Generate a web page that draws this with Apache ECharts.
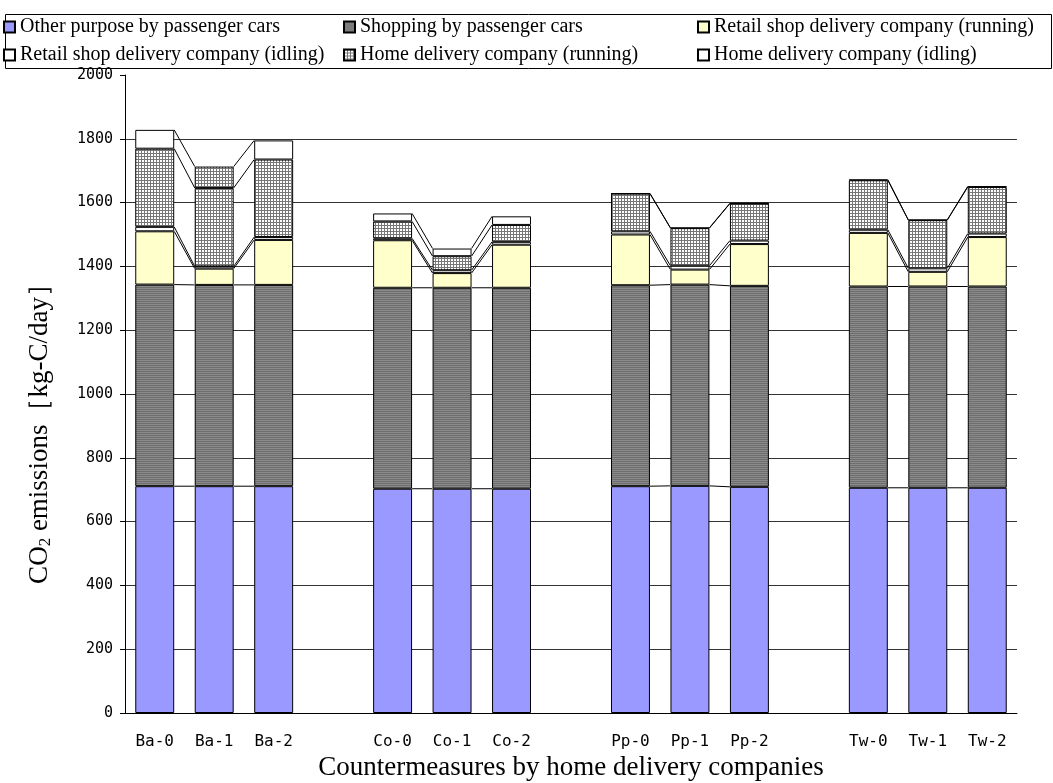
<!DOCTYPE html>
<html>
<head>
<meta charset="utf-8">
<script src="https://cdn.jsdelivr.net/npm/echarts@6/dist/echarts.min.js"></script>
<style>html,body{margin:0;padding:0;background:#fff;}#c{width:1053px;height:783px;}</style>
</head>
<body>
<div id="c"></div>
<script>
const categories = ['Ba-0','Ba-1','Ba-2','','Co-0','Co-1','Co-2','','Pp-0','Pp-1','Pp-2','','Tw-0','Tw-1','Tw-2'];
const seriesNames = [
  'Other purpose by passenger cars',
  'Shopping by passenger cars',
  'Retail shop delivery company (running)',
  'Retail shop delivery company (idling)',
  'Home delivery company (running)',
  'Home delivery company (idling)'
];
const otherPurpose  = [711, 711, 711, null, 703, 703, 703, null, 711, 712, 709, null, 706, 706, 706];
const shopping      = [632, 631, 631, null, 630, 630, 630, null, 630, 631, 630, null, 631, 631, 631];
const retailRunning = [167,  51, 141, null, 149,  46, 135, null, 159,  47, 131, null, 168,  46, 155];
const retailIdling  = [ 14,   7,   9, null,   6,   9,   9, null,  10,  12,  11, null,  10,  11,  11];
const homeRunning   = [245, 246, 243, null,  53,  44,  53, null, 118, 118, 116, null, 155, 151, 146];
const homeIdling    = [ 59,  67,  60, null,  25,  24,  27, null,   1,   1,   1, null,   2,   1,   2];
const yTicks = [0, 200, 400, 600, 800, 1000, 1200, 1400, 1600, 1800, 2000];

const allSeries = [otherPurpose, shopping, retailRunning, retailIdling, homeRunning, homeIdling];
const BAR_RATIO = 0.655;

function makePattern(draw, w, h) {
  const cv = document.createElement('canvas');
  cv.width = w; cv.height = h;
  const ctx = cv.getContext('2d');
  draw(ctx);
  return { image: cv, repeat: 'repeat' };
}
const grayPattern = makePattern(ctx => {
  ctx.fillStyle = '#8a8a8a'; ctx.fillRect(0, 0, 2, 2);
  ctx.fillStyle = '#6e6e6e'; ctx.fillRect(0, 1, 2, 1);
}, 2, 2);
const hatchPattern = makePattern(ctx => {
  ctx.fillStyle = '#ffffff'; ctx.fillRect(0, 0, 3, 3);
  ctx.fillStyle = '#777777';
  ctx.fillRect(0, 0, 1, 3);
  ctx.fillRect(0, 0, 3, 1);
}, 3, 3);

const colors = ['#9999ff', grayPattern, '#ffffcc', '#ffffff', hatchPattern, '#ffffff'];

function cumulative(i) {
  const out = [];
  let s = 0;
  for (const arr of allSeries) { s += arr[i]; out.push(s); }
  return out;
}

const barSeries = seriesNames.map((name, k) => ({
  name,
  type: 'bar',
  stack: 'total',
  barWidth: (BAR_RATIO * 100) + '%',
  itemStyle: { color: colors[k], borderColor: '#000', borderWidth: 1 },
  data: allSeries[k].map((v, i) => {
    if (v === null) return '-';
    if (k === 5 && categories[i] === 'Ba-1') {
      return { value: v, itemStyle: { color: hatchPattern } };
    }
    return v;
  })
}));

const linkData = [];
for (let i = 0; i < categories.length - 1; i++) {
  if (otherPurpose[i] !== null && otherPurpose[i + 1] !== null) linkData.push([i, 0]);
}

const seriesLines = {
  name: 'series-lines',
  type: 'custom',
  z: 5,
  silent: true,
  encode: { x: 0, y: 1 },
  data: linkData,
  renderItem(params, api) {
    const i = api.value(0);
    const a = cumulative(i), b = cumulative(i + 1);
    const halfW = api.size([1, 0])[0] * BAR_RATIO / 2;
    const children = a.map((va, k) => {
      const p1 = api.coord([i, va]);
      const p2 = api.coord([i + 1, b[k]]);
      return {
        type: 'line',
        shape: { x1: p1[0] + halfW, y1: p1[1], x2: p2[0] - halfW, y2: p2[1] },
        style: { stroke: '#000', lineWidth: 1 }
      };
    });
    return { type: 'group', children };
  }
};

const legendText = { fontFamily: 'Liberation Serif', fontSize: 20, color: '#000' };
function legendCol(names, left) {
  return {
    orient: 'vertical', left, top: 17, padding: 0,
    itemWidth: 11, itemHeight: 11, itemGap: 8,
    icon: 'rect',
    textStyle: legendText,
    data: names
  };
}

const chart = echarts.init(document.getElementById('c'), null, { renderer: 'canvas' });
chart.setOption({
  animation: false,
  backgroundColor: '#fff',
  legend: [
    legendCol([seriesNames[0], seriesNames[3]], 3),
    legendCol([seriesNames[1], seriesNames[4]], 343),
    legendCol([seriesNames[2], seriesNames[5]], 697)
  ],
  graphic: [
    { type: 'rect', left: 3, top: 12, shape: { width: 1046, height: 54 },
      style: { fill: 'none', stroke: '#000', lineWidth: 1 }, z: -1 },
    { type: 'text', x: 40, y: 427, rotation: Math.PI / 2, z: 10,
      style: {
        text: '{a|CO}{s|2}{a| emissions［kg-C/day］}',
        align: 'center', verticalAlign: 'middle',
        rich: {
          a: { fontFamily: 'Liberation Serif', fontSize: 27, fill: '#000' },
          s: { fontFamily: 'Liberation Serif', fontSize: 17, fill: '#000', padding: [12, 0, 0, 0] }
        }
      } }
  ],
  grid: { left: 125, right: 36, top: 75, bottom: 70, outerBoundsMode: 'none', containLabel: false },
  xAxis: {
    type: 'category',
    data: categories,
    boundaryGap: true,
    name: 'Countermeasures by home delivery companies',
    nameLocation: 'middle',
    nameGap: 40,
    nameTextStyle: { fontFamily: 'Liberation Serif', fontSize: 27, color: '#000' },
    axisLine: { lineStyle: { color: '#000', width: 1 } },
    axisTick: { inside: true, length: 5, interval: 0, lineStyle: { color: '#000' } },
    axisLabel: { interval: 0, margin: 21, fontFamily: 'DejaVu Sans Mono', fontSize: 16, color: '#000' },
    splitLine: { show: false }
  },
  yAxis: {
    type: 'value',
    min: yTicks[0], max: yTicks[yTicks.length - 1], interval: yTicks[1] - yTicks[0],
    axisLine: { show: true, lineStyle: { color: '#000', width: 1 } },
    axisTick: { show: true, inside: false, length: 5, lineStyle: { color: '#000' } },
    axisLabel: { margin: 12, fontFamily: 'DejaVu Sans Mono', fontSize: 15, color: '#000', formatter: v => String(v) },
    splitLine: { show: true, showMinLine: false, showMaxLine: false, lineStyle: { color: '#333', width: 1 } }
  },
  series: [...barSeries, seriesLines]
});
</script>
</body>
</html>
